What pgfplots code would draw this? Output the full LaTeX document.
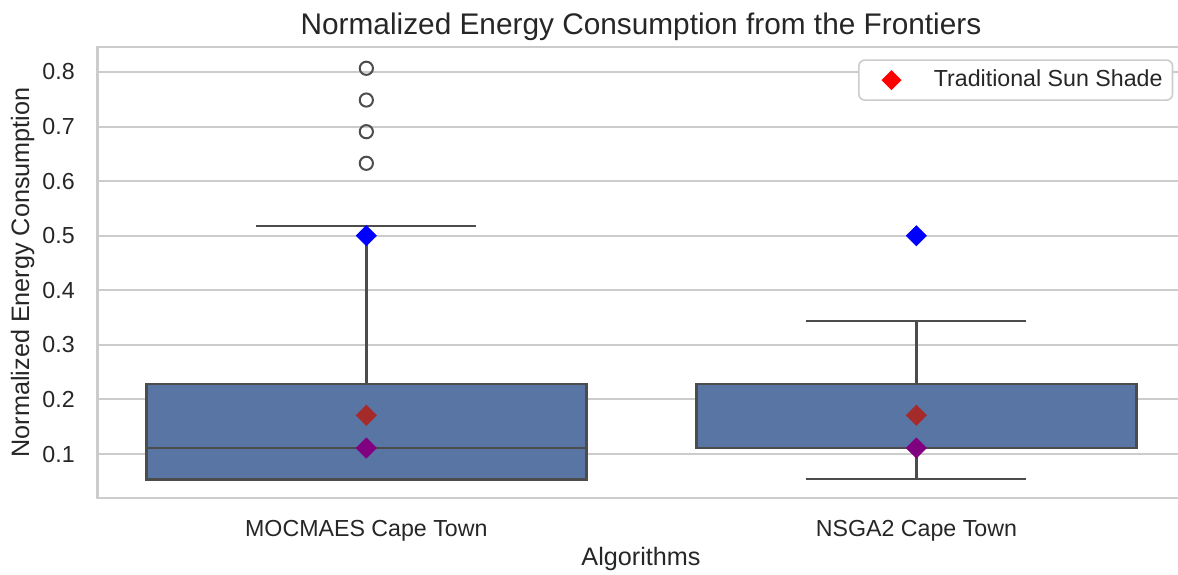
\documentclass[border=0pt]{standalone}
\usepackage{pgfplots}
\pgfplotsset{compat=1.18}
\usepgfplotslibrary{statistics}
\usepackage{fontspec}
\setmainfont{Liberation Sans}
\definecolor{boxblue}{HTML}{5875A4}
\definecolor{linegray}{HTML}{4C4C4C}
\definecolor{gridgray}{HTML}{CCCCCC}
\definecolor{txt}{HTML}{262626}
\definecolor{mbrown}{HTML}{A52A2A}
\definecolor{mpurple}{HTML}{800080}
\begin{document}
\begin{tikzpicture}
\useasboundingbox (-48.85pt,-38pt) rectangle (540.15pt,249pt);
\begin{axis}[
  at={(0,0)}, anchor=south west,
  scale only axis, width=543.3pt, height=225.5pt,
  xmin=-0.4884, xmax=1.4871, ymin=0.0194, ymax=0.8458,
  xtick={0,1}, xticklabels={MOCMAES Cape Town, NSGA2 Cape Town},
  ytick={0.1,0.2,0.3,0.4,0.5,0.6,0.7,0.8},
  yticklabels={0.1,0.2,0.3,0.4,0.5,0.6,0.7,0.8},
  major tick length=0pt, tick style={draw=none},
  ymajorgrids, grid style={gridgray, line width=1pt},
  axis line style={gridgray, line width=1.25pt},
  ticklabel style={font=\fontsize{11.6}{13}\selectfont, text=txt},
  xticklabel style={anchor=base, yshift=-19pt, inner sep=0pt},
  yticklabel style={anchor=east, inner sep=0pt, xshift=-11.3pt},
  label style={font=\fontsize{12.6}{15}\selectfont, text=txt},
  xlabel={Algorithms},
  ylabel={Normalized Energy Consumption},
  xlabel style={at={(axis description cs:0.5,-0.1486)}, anchor=base, inner sep=0pt},
  ylabel style={at={(axis description cs:-0.0632,0.5)}, anchor=base, inner sep=0pt},
  every axis title shift=0pt,
  title={Normalized Energy Consumption from the Frontiers},
  title style={at={(axis description cs:0.5,1.0266)}, anchor=base, inner sep=0pt, font=\fontsize{14.9}{18}\selectfont, text=txt},
  boxplot/draw direction=y,
  boxplot/every box/.style={draw=linegray, fill=boxblue, line width=1.2pt},
  boxplot/every whisker/.style={draw=linegray, line width=1.2pt},
  boxplot/every median/.style={draw=linegray, line width=1.2pt},
  legend style={at={(axis description cs:0.9899,0.9727)}, anchor=north east,
    draw=gridgray, line width=0.8pt, rounded corners=3pt, fill=white,
    inner xsep=5pt, inner ysep=4.55pt, column sep=16.15pt,
    font=\fontsize{11.6}{13}\selectfont, text=txt,
    nodes={inner sep=0pt, text height=8.4pt, text depth=2.5pt}},
]
\addplot[boxplot prepared={draw direction=y, draw position=0, lower whisker=0.0536, lower quartile=0.0536,
    median=0.1115, upper quartile=0.2278, upper whisker=0.5183,
    box extend=0.8, whisker extend=0.4},
  draw=linegray, mark=o, mark size=3.3pt,
  mark options={draw=linegray, line width=1pt, fill=none}, forget plot]
  table[row sep=\\, y index=0] {data\\ 0.8068\\ 0.7486\\ 0.6906\\ 0.6327\\};
\addplot[boxplot prepared={draw direction=y, draw position=1, lower whisker=0.0547, lower quartile=0.1115,
    median=0.1115, upper quartile=0.2278, upper whisker=0.3437,
    box extend=0.8, whisker extend=0.4},
  draw=linegray, forget plot]
  coordinates {};
\addplot[only marks, mark=square*, mark size=3.54pt, mark options={rotate=45}, color=blue, forget plot]
  coordinates {(0,0.5) (1,0.5)};
\addplot[only marks, mark=square*, mark size=3.54pt, mark options={rotate=45}, color=mbrown, forget plot]
  coordinates {(0,0.171) (1,0.171)};
\addplot[only marks, mark=square*, mark size=3.54pt, mark options={rotate=45}, color=mpurple, forget plot]
  coordinates {(0,0.111) (1,0.111)};
\addlegendimage{legend image code/.code={
    \path[draw=none] (-11.35pt,0pt) -- (5pt,0pt);
    \fill[red, draw=none, sharp corners] (0pt,5pt) -- (5pt,0pt) -- (0pt,-5pt) -- (-5pt,0pt) -- cycle;}}
\addlegendentry{Traditional Sun Shade}
\end{axis}
\end{tikzpicture}
\end{document}
